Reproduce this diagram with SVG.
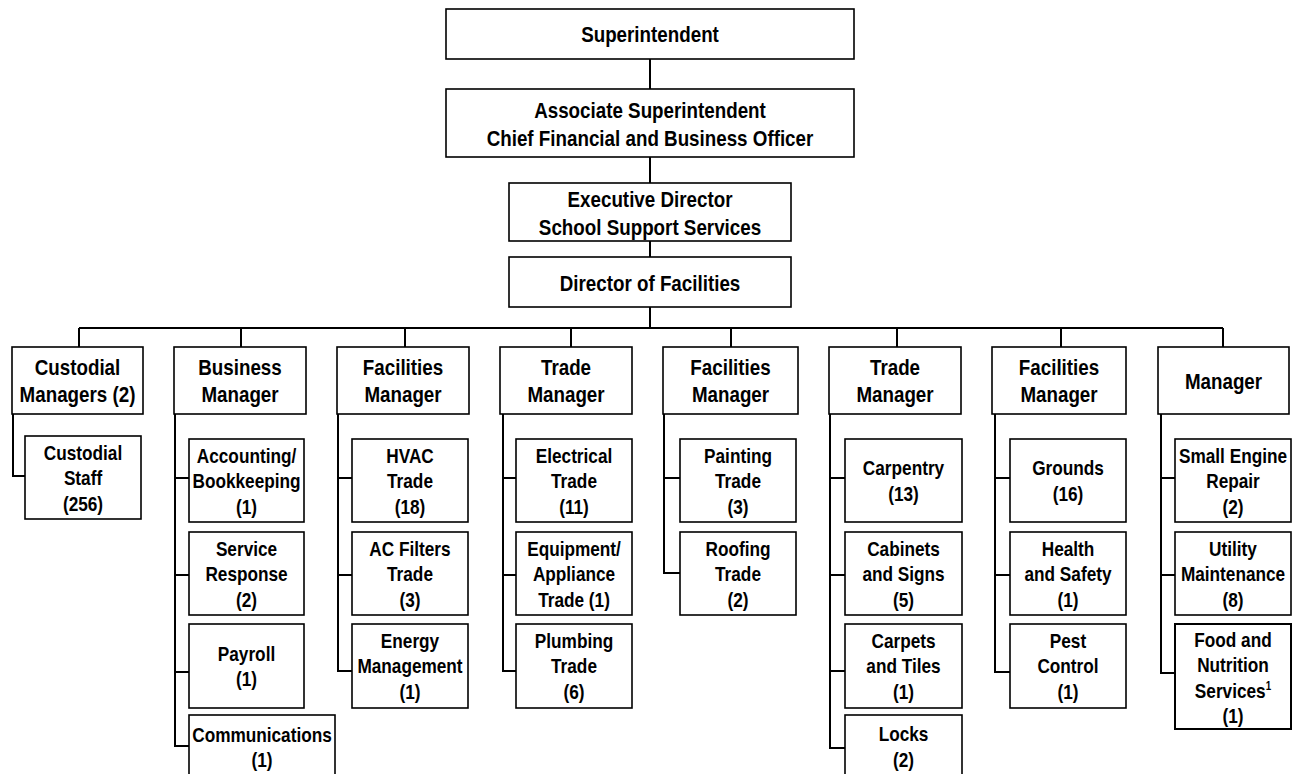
<svg xmlns="http://www.w3.org/2000/svg" width="1296" height="774" viewBox="0 0 1296 774">
<style>
.box{fill:#fff;stroke:#000;stroke-width:1.6}
.t{font-family:'Liberation Sans',Arial,sans-serif;font-weight:bold;font-size:21px;text-anchor:middle;fill:#000}
.tl{font-size:22.5px}
.c{stroke:#000;stroke-width:2;fill:none}
.sup{font-size:12px}
</style>
<rect width="1296" height="774" fill="#fff"/>
<g id="connectors">
<path class="c" d="M650,59V89M650,157V183M650,241V257M650,307V328M79,328H1223M79,328V347M241,328V347M405,328V347M571,328V347M731,328V347M897,328V347M1061,328V347M1223,328V347"/>
<path class="c" d="M13,414V476H25"/>
<path class="c" d="M175,414V746H189M175,478H189M175,575H189M175,672H189"/>
<path class="c" d="M338,414V671H352M338,478H352M338,575H352"/>
<path class="c" d="M503,414V671H516M503,478H516M503,575H516"/>
<path class="c" d="M664,414V573H680M664,478H680"/>
<path class="c" d="M830,414V748H845M830,478H845M830,575H845M830,671H845"/>
<path class="c" d="M995,414V672H1010M995,478H1010M995,575H1010"/>
<path class="c" d="M1161,414V673H1175M1161,478H1175M1161,575H1175"/>
</g>
<g id="superintendent"><rect class="box" x="446" y="9" width="408" height="50"/><text class="t tl" transform="translate(650 0) scale(.835 1)" x="0" y="42">Superintendent</text></g>
<g id="associate"><rect class="box" x="446" y="89" width="408" height="68"/><text class="t tl" transform="translate(650 0) scale(.835 1)"><tspan x="0" y="118">Associate Superintendent</tspan><tspan x="0" y="146">Chief Financial and Business Officer</tspan></text></g>
<g id="executive"><rect class="box" x="509" y="183" width="282" height="58"/><text class="t tl" transform="translate(650 0) scale(.835 1)"><tspan x="0" y="207">Executive Director</tspan><tspan x="0" y="235">School Support Services</tspan></text></g>
<g id="director"><rect class="box" x="509" y="257" width="282" height="50"/><text class="t tl" transform="translate(650 0) scale(.835 1)" x="0" y="291">Director of Facilities</text></g>

<g id="custodial-managers"><rect class="box" x="12" y="347" width="131" height="67"/><text class="t tl" transform="translate(77.5 0) scale(.835 1)"><tspan x="0" y="375">Custodial</tspan><tspan x="0" y="402">Managers (2)</tspan></text></g>
<g id="custodial-staff"><rect class="box" x="25" y="436" width="116" height="83"/><text class="t" transform="translate(83 0) scale(.82 1)"><tspan x="0" y="460">Custodial</tspan><tspan x="0" y="485.5">Staff</tspan><tspan x="0" y="511">(256)</tspan></text></g>

<g id="business-manager"><rect class="box" x="174" y="347" width="132" height="67"/><text class="t tl" transform="translate(240 0) scale(.835 1)"><tspan x="0" y="375">Business</tspan><tspan x="0" y="402">Manager</tspan></text></g>
<g id="accounting"><rect class="box" x="189" y="439" width="115" height="83"/><text class="t" transform="translate(246.5 0) scale(.82 1)"><tspan x="0" y="463">Accounting/</tspan><tspan x="0" y="488.5">Bookkeeping</tspan><tspan x="0" y="514">(1)</tspan></text></g>
<g id="service-response"><rect class="box" x="189" y="532" width="115" height="83"/><text class="t" transform="translate(246.5 0) scale(.82 1)"><tspan x="0" y="556">Service</tspan><tspan x="0" y="581.5">Response</tspan><tspan x="0" y="607">(2)</tspan></text></g>
<g id="payroll"><rect class="box" x="189" y="624" width="115" height="84"/><text class="t" transform="translate(246.5 0) scale(.82 1)"><tspan x="0" y="661">Payroll</tspan><tspan x="0" y="686.5">(1)</tspan></text></g>
<g id="communications"><rect class="box" x="189" y="715" width="146" height="83"/><text class="t" transform="translate(262 0) scale(.82 1)"><tspan x="0" y="742">Communications</tspan><tspan x="0" y="767">(1)</tspan></text></g>

<g id="facilities-manager-1"><rect class="box" x="337" y="347" width="132" height="67"/><text class="t tl" transform="translate(403 0) scale(.835 1)"><tspan x="0" y="375">Facilities</tspan><tspan x="0" y="402">Manager</tspan></text></g>
<g id="hvac"><rect class="box" x="352" y="439" width="116" height="83"/><text class="t" transform="translate(410 0) scale(.82 1)"><tspan x="0" y="463">HVAC</tspan><tspan x="0" y="488.5">Trade</tspan><tspan x="0" y="514">(18)</tspan></text></g>
<g id="ac-filters"><rect class="box" x="352" y="532" width="116" height="83"/><text class="t" transform="translate(410 0) scale(.82 1)"><tspan x="0" y="556">AC Filters</tspan><tspan x="0" y="581.5">Trade</tspan><tspan x="0" y="607">(3)</tspan></text></g>
<g id="energy"><rect class="box" x="352" y="624" width="116" height="84"/><text class="t" transform="translate(410 0) scale(.82 1)"><tspan x="0" y="648">Energy</tspan><tspan x="0" y="673.5">Management</tspan><tspan x="0" y="699">(1)</tspan></text></g>

<g id="trade-manager-1"><rect class="box" x="500" y="347" width="132" height="67"/><text class="t tl" transform="translate(566 0) scale(.835 1)"><tspan x="0" y="375">Trade</tspan><tspan x="0" y="402">Manager</tspan></text></g>
<g id="electrical"><rect class="box" x="516" y="439" width="116" height="83"/><text class="t" transform="translate(574 0) scale(.82 1)"><tspan x="0" y="463">Electrical</tspan><tspan x="0" y="488.5">Trade</tspan><tspan x="0" y="514">(11)</tspan></text></g>
<g id="equipment"><rect class="box" x="516" y="532" width="116" height="83"/><text class="t" transform="translate(574 0) scale(.82 1)"><tspan x="0" y="556">Equipment/</tspan><tspan x="0" y="581.5">Appliance</tspan><tspan x="0" y="607">Trade (1)</tspan></text></g>
<g id="plumbing"><rect class="box" x="516" y="624" width="116" height="84"/><text class="t" transform="translate(574 0) scale(.82 1)"><tspan x="0" y="648">Plumbing</tspan><tspan x="0" y="673.5">Trade</tspan><tspan x="0" y="699">(6)</tspan></text></g>

<g id="facilities-manager-2"><rect class="box" x="663" y="347" width="135" height="67"/><text class="t tl" transform="translate(730.5 0) scale(.835 1)"><tspan x="0" y="375">Facilities</tspan><tspan x="0" y="402">Manager</tspan></text></g>
<g id="painting"><rect class="box" x="680" y="439" width="116" height="83"/><text class="t" transform="translate(738 0) scale(.82 1)"><tspan x="0" y="463">Painting</tspan><tspan x="0" y="488.5">Trade</tspan><tspan x="0" y="514">(3)</tspan></text></g>
<g id="roofing"><rect class="box" x="680" y="532" width="116" height="83"/><text class="t" transform="translate(738 0) scale(.82 1)"><tspan x="0" y="556">Roofing</tspan><tspan x="0" y="581.5">Trade</tspan><tspan x="0" y="607">(2)</tspan></text></g>

<g id="trade-manager-2"><rect class="box" x="829" y="347" width="132" height="67"/><text class="t tl" transform="translate(895 0) scale(.835 1)"><tspan x="0" y="375">Trade</tspan><tspan x="0" y="402">Manager</tspan></text></g>
<g id="carpentry"><rect class="box" x="845" y="439" width="117" height="83"/><text class="t" transform="translate(903.5 0) scale(.82 1)"><tspan x="0" y="475.5">Carpentry</tspan><tspan x="0" y="501">(13)</tspan></text></g>
<g id="cabinets"><rect class="box" x="845" y="532" width="117" height="83"/><text class="t" transform="translate(903.5 0) scale(.82 1)"><tspan x="0" y="556">Cabinets</tspan><tspan x="0" y="581.5">and Signs</tspan><tspan x="0" y="607">(5)</tspan></text></g>
<g id="carpets"><rect class="box" x="845" y="624" width="117" height="84"/><text class="t" transform="translate(903.5 0) scale(.82 1)"><tspan x="0" y="648">Carpets</tspan><tspan x="0" y="673.5">and Tiles</tspan><tspan x="0" y="699">(1)</tspan></text></g>
<g id="locks"><rect class="box" x="845" y="715" width="117" height="83"/><text class="t" transform="translate(903.5 0) scale(.82 1)"><tspan x="0" y="741">Locks</tspan><tspan x="0" y="767">(2)</tspan></text></g>

<g id="facilities-manager-3"><rect class="box" x="992" y="347" width="134" height="67"/><text class="t tl" transform="translate(1059 0) scale(.835 1)"><tspan x="0" y="375">Facilities</tspan><tspan x="0" y="402">Manager</tspan></text></g>
<g id="grounds"><rect class="box" x="1010" y="439" width="116" height="83"/><text class="t" transform="translate(1068 0) scale(.82 1)"><tspan x="0" y="475.5">Grounds</tspan><tspan x="0" y="501">(16)</tspan></text></g>
<g id="health"><rect class="box" x="1010" y="532" width="116" height="83"/><text class="t" transform="translate(1068 0) scale(.82 1)"><tspan x="0" y="556">Health</tspan><tspan x="0" y="581.5">and Safety</tspan><tspan x="0" y="607">(1)</tspan></text></g>
<g id="pest"><rect class="box" x="1010" y="624" width="116" height="84"/><text class="t" transform="translate(1068 0) scale(.82 1)"><tspan x="0" y="648">Pest</tspan><tspan x="0" y="673.5">Control</tspan><tspan x="0" y="699">(1)</tspan></text></g>

<g id="manager"><rect class="box" x="1158" y="347" width="131" height="67"/><text class="t tl" transform="translate(1223.5 0) scale(.835 1)" x="0" y="389">Manager</text></g>
<g id="small-engine"><rect class="box" x="1175" y="439" width="116" height="83"/><text class="t" transform="translate(1233 0) scale(.82 1)"><tspan x="0" y="463">Small Engine</tspan><tspan x="0" y="488.5">Repair</tspan><tspan x="0" y="514">(2)</tspan></text></g>
<g id="utility"><rect class="box" x="1175" y="532" width="116" height="83"/><text class="t" transform="translate(1233 0) scale(.82 1)"><tspan x="0" y="556">Utility</tspan><tspan x="0" y="581.5">Maintenance</tspan><tspan x="0" y="607">(8)</tspan></text></g>
<g id="food"><rect class="box" x="1175" y="624" width="116" height="105" style="stroke-width:2"/><text class="t" transform="translate(1233 0) scale(.82 1)"><tspan x="0" y="647">Food and</tspan><tspan x="0" y="672.5">Nutrition</tspan><tspan x="0" y="698">Services<tspan class="sup" dy="-8">1</tspan></tspan><tspan x="0" y="723">(1)</tspan></text></g>
</svg>
